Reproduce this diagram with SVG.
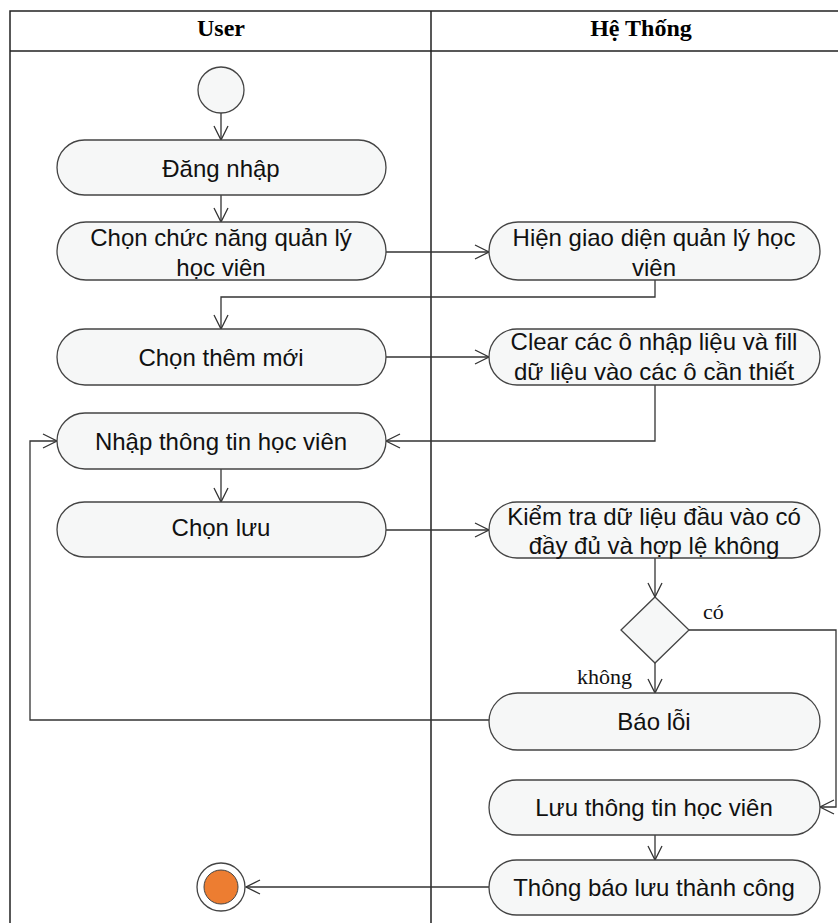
<svg xmlns="http://www.w3.org/2000/svg" width="838" height="923" viewBox="0 0 838 923">
  <style>
    .lane { fill: none; stroke: #222; stroke-width: 1.5; }
    .hdr { font-family: "Liberation Serif", serif; font-weight: bold; font-size: 24px; fill: #000; text-anchor: middle; }
    .act { fill: #f6f7f7; stroke: #444; stroke-width: 1.3; }
    .lbl { font-family: "Liberation Sans", Arial, sans-serif; font-size: 24px; fill: #111; text-anchor: middle; }
    .guard { font-family: "Liberation Serif", serif; font-size: 22px; fill: #111; }
    .edge { fill: none; stroke: #333; stroke-width: 1.3; marker-end: url(#open); }
  </style>
  <defs>
    <marker id="open" viewBox="0 0 20 20" refX="16" refY="10" markerWidth="20" markerHeight="20" markerUnits="userSpaceOnUse" orient="auto">
      <path d="M2,3 L16,10 L2,17" fill="none" stroke="#333" stroke-width="1.3"/>
    </marker>
  </defs>
  <rect width="838" height="923" fill="#fff"/>

  <!-- swimlanes -->
  <g id="lanes">
    <path class="lane" d="M10,923 V11 H838 M10,51 H838 M431,11 V923"/>
    <text class="hdr" x="221" y="36">User</text>
    <text class="hdr" x="641" y="36">Hệ Thống</text>
  </g>

  <!-- connectors -->
  <g id="connectors">
    <path class="edge" d="M221,113 V140"/>
    <path class="edge" d="M221,195 V222"/>
    <path class="edge" d="M386,252 H489"/>
    <path class="edge" d="M655,280 V297 H221 V329"/>
    <path class="edge" d="M386,357 H489"/>
    <path class="edge" d="M655,385 V441 H386"/>
    <path class="edge" d="M221,469 V502"/>
    <path class="edge" d="M386,530 H489"/>
    <path class="edge" d="M655,558 V597"/>
    <path class="edge" d="M689,630 H836 V807 H820"/>
    <path class="edge" d="M655,663 V693"/>
    <path class="edge" d="M489,720 H30 V441 H57"/>
    <path class="edge" d="M655,835 V860"/>
    <path class="edge" d="M489,887 H246"/>
    <text class="guard" x="703" y="619">có</text>
    <text class="guard" x="577" y="684">không</text>
  </g>

  <g id="start"><circle cx="221" cy="90" r="23" fill="#f6f7f7" stroke="#444" stroke-width="1.3"/></g>

  <g id="dang-nhap">
    <rect class="act" x="57" y="140" width="329" height="55" rx="27.5"/>
    <text class="lbl" x="221" y="177">Đăng nhập</text>
  </g>
  <g id="chon-chuc-nang">
    <rect class="act" x="57" y="222" width="329" height="58" rx="29"/>
    <text class="lbl" x="221" y="246">Chọn chức năng quản lý</text>
    <text class="lbl" x="221" y="276">học viên</text>
  </g>
  <g id="hien-giao-dien">
    <rect class="act" x="489" y="222" width="331" height="58" rx="29"/>
    <text class="lbl" x="654" y="246">Hiện giao diện quản lý học</text>
    <text class="lbl" x="654" y="276">viên</text>
  </g>
  <g id="chon-them-moi">
    <rect class="act" x="57" y="329" width="329" height="56" rx="28"/>
    <text class="lbl" x="221" y="366">Chọn thêm mới</text>
  </g>
  <g id="clear-fill">
    <rect class="act" x="489" y="329" width="331" height="56" rx="28"/>
    <text class="lbl" x="654" y="350">Clear các ô nhập liệu và fill</text>
    <text class="lbl" x="654" y="380">dữ liệu vào các ô cần thiết</text>
  </g>
  <g id="nhap-thong-tin">
    <rect class="act" x="57" y="413" width="329" height="56" rx="28"/>
    <text class="lbl" x="221" y="450">Nhập thông tin học viên</text>
  </g>
  <g id="chon-luu">
    <rect class="act" x="57" y="502" width="329" height="55" rx="27.5"/>
    <text class="lbl" x="221" y="536">Chọn lưu</text>
  </g>
  <g id="kiem-tra">
    <rect class="act" x="489" y="502" width="331" height="56" rx="28"/>
    <text class="lbl" x="654" y="525">Kiểm tra dữ liệu đầu vào có</text>
    <text class="lbl" x="654" y="554">đầy đủ và hợp lệ không</text>
  </g>
  <g id="decision">
    <polygon points="655,597 689,630 655,663 621,630" fill="#f6f7f7" stroke="#444" stroke-width="1.3"/>
  </g>
  <g id="bao-loi">
    <rect class="act" x="489" y="693" width="331" height="57" rx="28.5"/>
    <text class="lbl" x="654" y="730">Báo lỗi</text>
  </g>
  <g id="luu-thong-tin">
    <rect class="act" x="489" y="780" width="331" height="55" rx="27.5"/>
    <text class="lbl" x="654" y="816">Lưu thông tin học viên</text>
  </g>
  <g id="thong-bao">
    <rect class="act" x="489" y="860" width="331" height="55" rx="27.5"/>
    <text class="lbl" x="654" y="896">Thông báo lưu thành công</text>
  </g>
  <g id="end">
    <circle cx="221" cy="887" r="24" fill="#fff" stroke="#444" stroke-width="1.3"/>
    <circle cx="221" cy="887" r="17" fill="#ed7d31" stroke="#444" stroke-width="1"/>
  </g>
</svg>
